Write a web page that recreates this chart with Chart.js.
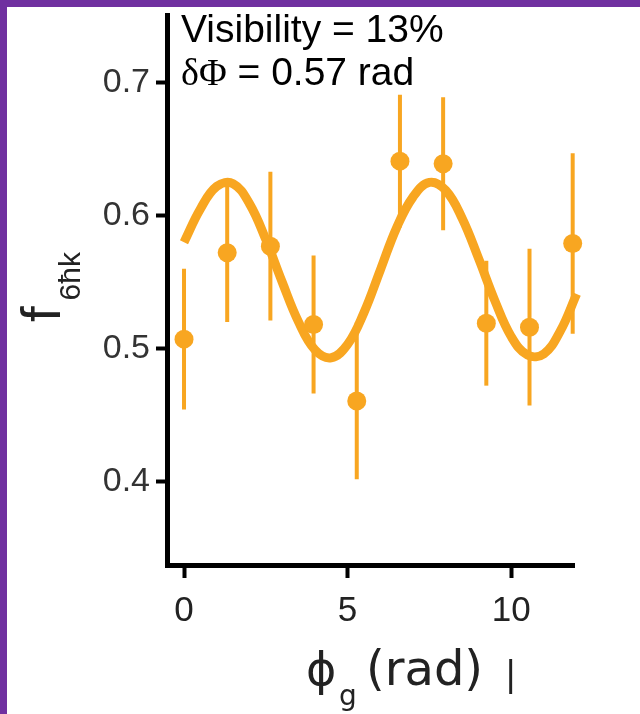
<!DOCTYPE html>
<html>
<head>
<meta charset="utf-8">
<title>f6ħk vs ϕg</title>
<script src="https://cdn.jsdelivr.net/npm/chart.js@4.4.1/dist/chart.umd.min.js"></script>
<style>
  html, body { margin: 0; padding: 0; background: #fff; }
  #wrap { position: relative; width: 640px; height: 714px; overflow: hidden; }
  #fringe { position: absolute; left: 0; top: 0; }
  .band { position: absolute; background: #7030a0; }
</style>
</head>
<body>
<div id="wrap">
  <canvas id="fringe" width="640" height="714"></canvas>
  <div class="band" style="left:0;top:0;width:640px;height:7px"></div>
  <div class="band" style="left:0;top:0;width:7px;height:714px"></div>
</div>
<script>
// measured population fraction vs. grating phase
const phase = [0, 1.32, 2.64, 3.96, 5.28, 6.60, 7.92, 9.24, 10.56, 11.88];
const fraction = [0.507, 0.572, 0.577, 0.518, 0.4605, 0.641, 0.639, 0.519, 0.516, 0.579];
const fractionErr = [0.053, 0.052, 0.056, 0.052, 0.059, 0.050, 0.050, 0.047, 0.059, 0.068];

// sinusoidal fit, sampled every 0.5 rad
const fitPhase = [0, 0.5, 1, 1.5, 2, 2.5, 3, 3.5, 4, 4.5, 5, 5.5, 6, 6.5, 7, 7.5, 8, 8.5, 9, 9.5, 10, 10.5, 11, 11.5, 12];
const fitFraction = [0.580, 0.605, 0.622, 0.624, 0.609, 0.582, 0.550, 0.520, 0.499, 0.493, 0.503, 0.527, 0.559,
                     0.591, 0.614, 0.625, 0.619, 0.598, 0.568, 0.536, 0.509, 0.495, 0.496, 0.513, 0.541];

const xTicks = [0, 5, 10];
const yTicks = [0.4, 0.5, 0.6, 0.7];

const ORANGE = "#f8a621";

const errorBars = {
    id: "errorBars",
    beforeDatasetsDraw(chart) {
        const { ctx, scales: { x, y } } = chart;
        ctx.save();
        ctx.strokeStyle = ORANGE;
        ctx.lineWidth = 4;
        phase.forEach((p, i) => {
            const px = x.getPixelForValue(p);
            ctx.beginPath();
            ctx.moveTo(px, y.getPixelForValue(fraction[i] + fractionErr[i]));
            ctx.lineTo(px, y.getPixelForValue(fraction[i] - fractionErr[i]));
            ctx.stroke();
        });
        ctx.restore();
    }
};

// axis titles with subscripts, plus the fit summary in the corner
const labels = {
    id: "labels",
    afterDraw(chart) {
        const ctx = chart.ctx;
        ctx.save();
        ctx.textAlign = "left";
        ctx.textBaseline = "alphabetic";

        // y title, rotated
        ctx.save();
        ctx.translate(60, 322);
        ctx.rotate(-Math.PI / 2);
        ctx.fillStyle = "#222";
        ctx.font = "56px 'Liberation Sans'";
        ctx.fillText("f", 0, 0);
        const fw = ctx.measureText("f").width;
        ctx.font = "30px 'Liberation Sans'";
        ctx.fillText("6ħk", fw + 6, 20);
        ctx.restore();

        // x title
        ctx.fillStyle = "#222";
        ctx.font = "46px 'DejaVu Sans'";
        ctx.fillText("ϕ", 306, 685);
        ctx.font = "28px 'DejaVu Sans'";
        ctx.fillText("g", 339, 705);
        ctx.font = "48px 'DejaVu Sans'";
        ctx.fillText("(rad)", 366, 685);
        ctx.font = "36px 'Liberation Sans'";
        ctx.fillText("|", 506, 686);

        // fit summary
        ctx.fillStyle = "#000";
        ctx.font = "39px 'Liberation Sans'";
        ctx.fillText("Visibility = 13%", 181, 42);
        ctx.font = "38px 'Liberation Serif'";
        ctx.fillText("δΦ", 181, 85);
        const dw = ctx.measureText("δΦ").width;
        ctx.font = "39px 'Liberation Sans'";
        ctx.fillText(" = 0.57 rad", 181 + dw, 85);
        ctx.restore();
    }
};

new Chart(document.getElementById("fringe"), {
    type: "scatter",
    data: {
        datasets: [
            {
                label: "data",
                data: phase.map((p, i) => ({ x: p, y: fraction[i] })),
                backgroundColor: ORANGE,
                borderWidth: 0,
                pointRadius: 9.5,
                clip: false,
                order: 0
            },
            {
                label: "fit",
                type: "line",
                data: fitPhase.map((p, i) => ({ x: p, y: fitFraction[i] })),
                borderColor: ORANGE,
                borderWidth: 9,
                borderCapStyle: "butt",
                pointRadius: 0,
                tension: 0.4,
                fill: false,
                clip: false,
                order: 1
            }
        ]
    },
    options: {
        responsive: false,
        animation: false,
        layout: { padding: { left: 0, top: 15, right: 66, bottom: 0 } },
        plugins: {
            legend: { display: false },
            tooltip: { enabled: false }
        },
        scales: {
            x: {
                type: "linear",
                min: -0.52,
                max: 11.92,
                afterFit(scale) {
                    scale.height = 149;
                    scale.paddingLeft = 0;
                    scale.paddingRight = 0;
                },
                afterBuildTicks(scale) { scale.ticks = xTicks.map(v => ({ value: v })); },
                grid: {
                    drawOnChartArea: false,
                    drawTicks: true,
                    tickLength: 13,
                    tickWidth: 4,
                    tickColor: "#000"
                },
                border: { color: "#000", width: 5 },
                ticks: {
                    padding: 12,
                    color: "#222",
                    font: { family: "'Liberation Sans'", size: 35 },
                    callback: v => String(v)
                }
            },
            y: {
                type: "linear",
                min: 0.337,
                max: 0.751,
                afterFit(scale) {
                    scale.width = 167;
                    scale.paddingTop = 0;
                    scale.paddingBottom = 0;
                },
                afterBuildTicks(scale) { scale.ticks = yTicks.map(v => ({ value: v })); },
                grid: {
                    drawOnChartArea: false,
                    drawTicks: true,
                    tickLength: 11,
                    tickWidth: 4,
                    tickColor: "#000"
                },
                border: { color: "#000", width: 5 },
                ticks: {
                    padding: 6,
                    color: "#333",
                    font: { family: "'Liberation Sans'", size: 34 },
                    callback: v => v.toFixed(1)
                }
            }
        }
    },
    plugins: [errorBars, labels]
});
</script>
</body>
</html>
